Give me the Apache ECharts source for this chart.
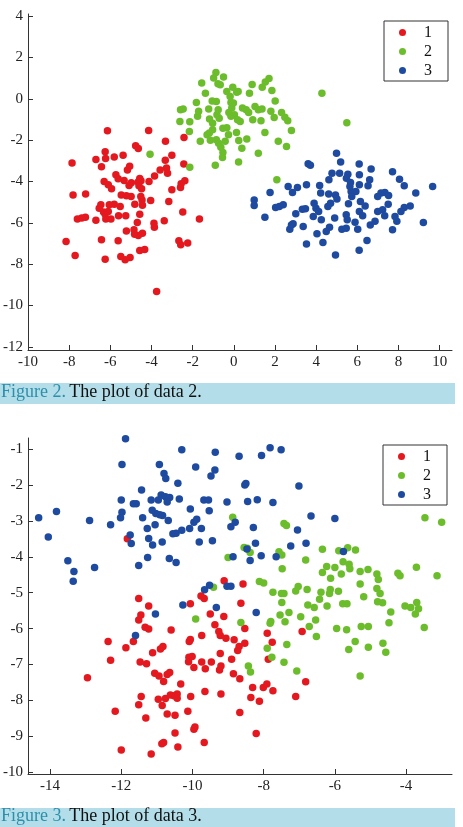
<!DOCTYPE html>
<html>
<head>
<meta charset="utf-8">
<script src="https://cdn.jsdelivr.net/npm/echarts@6/dist/echarts.min.js"></script>
<style>
html,body{margin:0;padding:0;background:#fff}
#main{width:463px;height:827px}
</style>
</head>
<body>
<div id="main"></div>
<script>
// Figure 2 - data 2, three groups
var fig2Group1 = [[-6.14,-1.55],[-4.14,-1.53],[-3.32,-2.06],[-4.77,-2.27],[-4.64,-2.40],[-2.42,-1.87],[-6.25,-2.56],[-6.70,-2.94],[-6.23,-2.89],[-5.81,-2.82],[-5.38,-2.73],[-3.01,-2.73],[-3.33,-2.97],[-7.86,-3.11],[-6.43,-3.29],[-5.06,-3.26],[-5.17,-3.44],[-3.58,-3.44],[-3.27,-3.35],[-3.22,-3.60],[-3.85,-3.74],[-5.73,-3.68],[-5.62,-3.87],[-4.57,-3.85],[-5.33,-3.95],[-4.98,-4.06],[-4.65,-4.03],[-4.51,-3.97],[-4.12,-4.00],[-6.30,-4.00],[-6.10,-4.16],[-4.61,-4.21],[-2.38,-3.97],[-2.56,-4.11],[-2.59,-4.29],[-5.94,-4.35],[-5.09,-4.19],[-4.48,-4.35],[-3.01,-4.40],[-7.81,-4.65],[-7.20,-4.60],[-5.47,-4.65],[-5.22,-4.69],[-4.99,-4.73],[-4.52,-4.73],[-4.46,-4.89],[-4.04,-4.92],[-4.81,-5.10],[-4.44,-5.15],[-3.16,-4.97],[-6.46,-5.13],[-6.05,-5.13],[-5.81,-5.10],[-5.52,-5.21],[-6.54,-5.29],[-6.33,-5.48],[-6.25,-5.58],[-6.10,-5.45],[-5.60,-5.66],[-5.25,-5.66],[-4.57,-5.58],[-2.48,-5.48],[-7.60,-5.82],[-7.39,-5.77],[-7.21,-5.73],[-6.70,-5.87],[-6.22,-5.82],[-5.97,-5.82],[-4.69,-5.98],[-3.88,-6.02],[-3.86,-6.21],[-3.38,-5.90],[-1.67,-5.82],[-5.22,-6.39],[-4.85,-6.34],[-4.64,-6.61],[-4.44,-6.50],[-4.82,-6.55],[-8.15,-6.90],[-6.43,-6.82],[-5.62,-6.87],[-2.67,-6.87],[-2.58,-7.06],[-2.24,-6.98],[-7.71,-7.58],[-6.25,-7.76],[-5.49,-7.63],[-5.28,-7.79],[-5.04,-7.68],[-4.57,-7.34],[-4.33,-7.29],[-3.75,-9.32],[-2.43,-3.15]];
var fig2Group2 = [[-0.87,1.27],[-0.98,1.00],[-0.77,0.73],[-0.50,1.05],[-0.66,0.68],[-1.56,0.76],[-1.38,0.27],[-0.05,0.56],[0.21,0.35],[0.14,0.32],[0.76,0.27],[0.89,0.69],[1.53,0.81],[1.71,0.98],[1.38,0.56],[1.85,0.40],[4.28,0.27],[-1.05,-0.11],[-0.18,0.11],[-0.14,-0.18],[-1.82,-0.18],[-2.59,-0.53],[-2.46,-0.50],[-1.71,-0.60],[-1.22,-0.50],[-0.76,-0.53],[-0.10,-0.45],[0.42,-0.45],[0.60,-0.53],[0.72,-0.66],[1.03,-0.37],[1.19,-0.53],[1.37,-0.50],[2.01,-0.11],[1.80,-0.60],[2.32,-0.66],[2.48,-0.89],[2.62,-1.06],[-2.62,-1.10],[-2.14,-1.11],[-1.76,-0.85],[-1.18,-0.98],[-0.82,-0.77],[-0.71,-0.94],[-1.03,-1.18],[-0.24,-0.66],[-0.14,-0.85],[0.03,-0.77],[0.18,-1.02],[0.31,-1.10],[0.92,-1.02],[1.32,-1.06],[1.96,-0.90],[2.80,-1.53],[-0.53,-1.42],[-0.34,-1.40],[-1.19,-1.66],[-2.16,-1.58],[0.13,-1.63],[1.51,-1.63],[-1.63,-2.05],[-1.14,-2.00],[-0.85,-1.98],[-0.74,-2.15],[-0.42,-2.06],[-0.63,-2.34],[-0.53,-2.60],[-0.55,-2.84],[0.24,-2.02],[0.63,-1.94],[0.39,-2.39],[2.16,-2.06],[2.56,-2.31],[1.19,-2.63],[-0.90,-3.21],[0.23,-3.06],[-2.14,-3.31],[2.09,-3.92],[-1.30,-1.74],[-1.03,-1.50],[-0.26,-1.74],[-0.34,0.35],[-0.85,-0.13],[-0.02,-0.21],[5.49,-1.16],[-4.07,-2.68]];
var fig2Group3 = [[4.99,-2.63],[3.61,-3.14],[3.72,-3.22],[5.19,-3.06],[6.09,-3.16],[6.67,-3.40],[7.71,-3.53],[4.77,-3.60],[5.14,-3.60],[5.54,-3.65],[6.10,-3.68],[5.47,-3.84],[4.62,-3.92],[6.60,-3.92],[8.05,-3.89],[3.53,-4.16],[4.17,-4.19],[2.64,-4.24],[3.09,-4.29],[2.85,-4.53],[5.64,-4.24],[6.10,-4.16],[6.52,-4.21],[8.28,-4.21],[9.66,-4.24],[1.76,-4.53],[4.22,-4.56],[4.61,-4.61],[4.94,-4.65],[5.01,-4.85],[5.70,-4.48],[5.93,-4.48],[5.73,-4.73],[6.99,-4.73],[7.15,-4.56],[7.34,-4.53],[7.52,-4.68],[8.84,-4.56],[0.99,-4.89],[0.99,-5.16],[2.03,-5.26],[2.21,-5.21],[2.40,-5.13],[3.90,-5.05],[4.70,-5.05],[5.57,-5.08],[6.15,-4.97],[6.38,-5.18],[7.50,-5.10],[8.28,-5.26],[8.57,-5.18],[3.33,-5.34],[3.48,-5.32],[3.99,-5.29],[4.57,-5.21],[4.12,-5.45],[3.86,-5.69],[4.25,-5.85],[4.90,-5.77],[5.46,-5.61],[6.10,-5.45],[6.26,-5.66],[6.99,-5.45],[7.23,-5.37],[7.33,-5.66],[8.12,-5.45],[7.83,-5.69],[1.51,-5.73],[3.01,-5.56],[5.51,-5.85],[5.89,-5.97],[6.63,-6.10],[6.86,-5.92],[7.92,-5.92],[9.21,-5.98],[2.88,-6.05],[2.72,-6.31],[3.37,-6.18],[4.65,-6.21],[4.49,-6.42],[5.25,-6.31],[5.46,-6.26],[6.02,-6.31],[4.04,-6.53],[7.71,-6.34],[3.53,-7.02],[4.33,-6.95],[6.47,-6.85],[6.09,-7.32],[4.94,-7.55],[2.80,-6.10],[5.67,-4.05]];

// Figure 3 - data 3, three groups
var fig3Group1 = [[-11.83,-3.50],[-9.11,-4.67],[-8.58,-4.76],[-11.51,-5.16],[-11.23,-5.37],[-11.45,-5.62],[-11.51,-5.76],[-10.06,-5.31],[-9.76,-5.09],[-9.67,-5.16],[-9.50,-5.59],[-9.37,-5.89],[-11.33,-5.96],[-11.23,-6.01],[-10.60,-6.04],[-12.37,-6.36],[-11.87,-6.53],[-11.66,-6.36],[-10.06,-6.30],[-10.09,-6.36],[-9.74,-6.19],[-9.26,-6.08],[-9.22,-6.19],[-11.12,-6.67],[-10.90,-6.57],[-10.83,-6.50],[-12.30,-6.88],[-11.47,-6.93],[-11.29,-6.98],[-10.10,-6.80],[-10.01,-6.78],[-10.11,-6.92],[-9.96,-7.08],[-9.74,-6.93],[-9.47,-6.93],[-9.64,-7.12],[-9.24,-7.15],[-9.20,-7.04],[-9.22,-6.69],[-12.95,-7.37],[-11.06,-7.24],[-10.94,-7.32],[-10.81,-7.47],[-10.71,-7.28],[-10.64,-7.22],[-10.33,-7.54],[-11.44,-7.89],[-10.96,-7.97],[-10.76,-7.95],[-10.62,-7.85],[-10.52,-7.87],[-10.43,-7.82],[-10.43,-7.94],[-10.05,-7.89],[-9.65,-7.75],[-9.20,-7.82],[-11.51,-8.12],[-10.85,-8.14],[-12.17,-8.30],[-11.31,-8.49],[-10.71,-8.38],[-10.49,-8.41],[-10.13,-8.30],[-10.49,-8.91],[-9.96,-8.80],[-9.93,-8.74],[-10.81,-9.17],[-10.86,-9.21],[-10.41,-9.30],[-9.67,-9.17],[-12.00,-9.38],[-11.16,-9.49],[-9.95,-10.07],[-8.64,-5.29],[-9.12,-5.66],[-8.53,-6.00],[-9.06,-6.27],[-8.83,-6.31],[-8.53,-6.41],[-8.69,-6.50],[-8.73,-6.61],[-7.90,-6.13],[-7.76,-6.38],[-6.92,-6.08],[-7.87,-6.85],[-8.90,-6.85],[-8.85,-7.26],[-8.67,-7.40],[-6.82,-7.48],[-7.91,-7.54],[-8.01,-7.64],[-7.74,-7.73],[-8.31,-7.64],[-8.36,-7.92],[-8.12,-8.02],[-7.10,-7.89],[-8.67,-8.34],[-8.21,-8.92]];
var fig3Group2 = [[-8.87,-2.90],[-9.00,-4.02],[-9.41,-4.85],[-7.43,-3.07],[-7.36,-3.13],[-3.47,-2.91],[-3.00,-3.04],[-8.55,-3.74],[-8.46,-3.76],[-8.38,-3.88],[-7.57,-3.86],[-7.49,-3.95],[-6.82,-4.09],[-6.35,-3.79],[-5.89,-3.83],[-5.64,-3.75],[-5.42,-3.81],[-7.48,-4.33],[-6.23,-4.27],[-6.00,-4.30],[-5.77,-4.14],[-5.60,-4.21],[-5.58,-4.33],[-6.35,-4.44],[-6.12,-4.60],[-5.82,-4.48],[-5.29,-4.41],[-5.07,-4.35],[-4.82,-4.48],[-4.78,-4.63],[-4.23,-4.46],[-4.17,-4.53],[-3.71,-4.29],[-3.13,-4.53],[-8.12,-4.69],[-8.00,-4.73],[-5.29,-4.76],[-7.03,-4.83],[-7.10,-4.95],[-6.78,-4.91],[-7.74,-4.99],[-7.50,-5.02],[-7.43,-5.02],[-6.39,-4.99],[-6.13,-4.91],[-5.90,-4.96],[-6.15,-5.02],[-4.82,-4.88],[-4.73,-5.02],[-5.19,-5.11],[-9.91,-5.73],[-4.80,-5.25],[-4.66,-5.28],[-6.43,-5.18],[-7.49,-5.27],[-6.76,-5.34],[-6.58,-5.41],[-6.22,-5.37],[-5.78,-5.31],[-5.66,-5.31],[-4.03,-5.37],[-3.87,-5.41],[-3.70,-5.27],[-3.65,-5.45],[-3.74,-5.59],[-4.43,-5.54],[-3.49,-5.97],[-7.54,-5.62],[-7.29,-5.55],[-7.80,-5.80],[-7.82,-5.85],[-7.40,-5.81],[-6.96,-5.67],[-6.54,-5.76],[-6.72,-5.94],[-8.64,-5.83],[-5.95,-6.00],[-5.67,-6.03],[-5.26,-5.94],[-5.06,-5.94],[-4.48,-5.84],[-6.52,-6.22],[-7.35,-6.44],[-7.90,-6.55],[-5.43,-6.36],[-5.61,-6.58],[-5.06,-6.52],[-4.65,-6.41],[-4.57,-6.66],[-7.77,-6.80],[-7.43,-6.94],[-8.43,-7.04],[-8.37,-7.21],[-7.07,-7.18],[-5.29,-7.32]];
var fig3Group3 = [[-11.88,-0.71],[-10.30,-1.02],[-9.36,-1.09],[-11.98,-1.43],[-10.93,-1.43],[-9.91,-1.50],[-10.80,-1.68],[-10.75,-1.82],[-9.37,-1.58],[-9.48,-1.75],[-10.41,-1.95],[-11.43,-2.14],[-12.00,-2.42],[-11.66,-2.52],[-11.58,-2.52],[-11.16,-2.42],[-10.96,-2.42],[-10.88,-2.28],[-10.76,-2.33],[-10.64,-2.35],[-10.71,-2.47],[-10.37,-2.39],[-9.68,-2.42],[-9.55,-2.42],[-9.03,-2.47],[-9.53,-2.72],[-10.06,-2.67],[-11.13,-2.70],[-11.03,-2.79],[-10.92,-2.83],[-10.84,-2.85],[-11.98,-2.76],[-12.02,-2.91],[-11.40,-2.91],[-10.68,-2.99],[-14.32,-2.91],[-13.82,-2.74],[-12.89,-2.99],[-12.30,-3.11],[-11.27,-3.21],[-11.05,-3.11],[-10.55,-3.36],[-10.46,-3.34],[-10.30,-3.26],[-10.08,-3.21],[-9.96,-3.04],[-9.88,-2.95],[-9.75,-3.21],[-14.05,-3.45],[-11.75,-3.39],[-11.72,-3.63],[-11.23,-3.49],[-11.12,-3.67],[-10.85,-3.59],[-9.81,-3.59],[-9.44,-3.55],[-13.50,-4.11],[-13.33,-4.41],[-13.35,-4.68],[-12.75,-4.30],[-11.51,-4.24],[-11.26,-4.02],[-10.65,-4.05],[-10.46,-4.16],[-8.92,-3.16],[-8.86,-4.00],[-9.52,-4.79],[-9.66,-4.92],[-9.03,-4.82],[-8.92,-4.82],[-8.69,-1.20],[-8.06,-1.18],[-7.82,-0.96],[-7.51,-1.02],[-8.53,-2.00],[-8.50,-1.96],[-7.01,-2.03],[-8.45,-2.46],[-8.18,-2.41],[-7.74,-2.49],[-6.67,-2.86],[-6.00,-2.93],[-8.80,-3.04],[-8.29,-3.18],[-7.05,-3.25],[-8.23,-3.62],[-7.24,-3.70],[-6.81,-3.62],[-8.47,-3.78],[-8.38,-4.10],[-8.07,-3.97],[-7.65,-4.00],[-5.76,-3.85],[-10.27,-5.34],[-11.04,-5.59],[-9.33,-5.41],[-11.60,-6.19],[-8.21,-5.55]];

// tick labels
var fig2XTicks = [-10,-8,-6,-4,-2,0,2,4,6,8,10];
var fig2YTicks = [-12,-10,-8,-6,-4,-2,0,2,4];
var fig3XTicks = [-14,-12,-10,-8,-6,-4];
var fig3YTicks = [-10,-9,-8,-7,-6,-5,-4,-3,-2,-1];
var groupNames = ['1','2','3'];
var groupColors = ['#e4191f','#6cbd2c','#1e4b9f'];

var serif = 'Liberation Serif';

function makeX(idx, min, max, ticks){
    return {
        type: 'value', gridIndex: idx, min: min, max: max,
        axisLine: {onZero: false, lineStyle: {color: '#333', width: 1}},
        axisTick: {inside: true, length: 5, customValues: ticks, lineStyle: {color: '#333'}},
        axisLabel: {customValues: ticks, color: '#222', fontFamily: serif, fontSize: 15, margin: 5},
        splitLine: {show: false}
    }
}
function makeY(idx, min, max, ticks){
    return {
        type: 'value', gridIndex: idx, min: min, max: max,
        axisLine: {show: true, onZero: false, lineStyle: {color: '#333', width: 1}},
        axisTick: {show: true, inside: true, length: 5, customValues: ticks, lineStyle: {color: '#333'}},
        axisLabel: {customValues: ticks, color: '#222', fontFamily: serif, fontSize: 15, margin: 5},
        splitLine: {show: false}
    }
}
// legend box about 64 x 60, dot then label
function makeLegend(left, top){
    return {
        left: left, top: top, orient: 'vertical', icon: 'circle',
        itemWidth: 7, itemHeight: 7, itemGap: 0,
        padding: [2, 16, 1, 15],
        borderColor: '#333', borderWidth: 1, backgroundColor: '#fff',
        textStyle: {fontFamily: serif, fontSize: 16, color: '#111', lineHeight: 19, padding: [0, 0, 0, 13]},
        data: groupNames
    }
}
function scatter(name, data, color, gi){
    return {
        name: name, type: 'scatter', xAxisIndex: gi, yAxisIndex: gi,
        data: data, symbolSize: 7.5,
        itemStyle: {color: color, opacity: 1}
    }
}
function caption(num, y, h){
    return [
        {type: 'rect', left: 0, top: y, shape: {width: 455, height: h}, style: {fill: '#b3dde8'}},
        {type: 'text', left: 1, top: y + h / 2 - 10, style: {
            text: '{a|Figure ' + num + '.} {b|The plot of data ' + num + '.}',
            rich: {
                a: {fontFamily: serif, fontSize: 18, fill: '#2e8fab', lineHeight: 20},
                b: {fontFamily: serif, fontSize: 18, fill: '#111', lineHeight: 20}
            }
        }}
    ]
}

var myChart = echarts.init(document.getElementById('main'))
var option = {
    animation: false,
    backgroundColor: '#fff',
    grid: [
        {left: 26, top: 14, width: 426, height: 336},
        {left: 26, top: 438, width: 426, height: 336}
    ],
    xAxis: [makeX(0, -10, 10.6, fig2XTicks), makeX(1, -14.62, -2.71, fig3XTicks)],
    yAxis: [makeY(0, -12.15, 4.1, fig2YTicks), makeY(1, -10.05, -0.69, fig3YTicks)],
    legend: [makeLegend(384, 21), makeLegend(383, 445)],
    series: [
        scatter(groupNames[0], fig2Group1, groupColors[0], 0),
        scatter(groupNames[1], fig2Group2, groupColors[1], 0),
        scatter(groupNames[2], fig2Group3, groupColors[2], 0),
        scatter(groupNames[0], fig3Group1, groupColors[0], 1),
        scatter(groupNames[1], fig3Group2, groupColors[1], 1),
        scatter(groupNames[2], fig3Group3, groupColors[2], 1)
    ],
    graphic: caption(2, 383, 21).concat(caption(3, 808, 19))
};
myChart.setOption(option)
</script>
</body>
</html>
